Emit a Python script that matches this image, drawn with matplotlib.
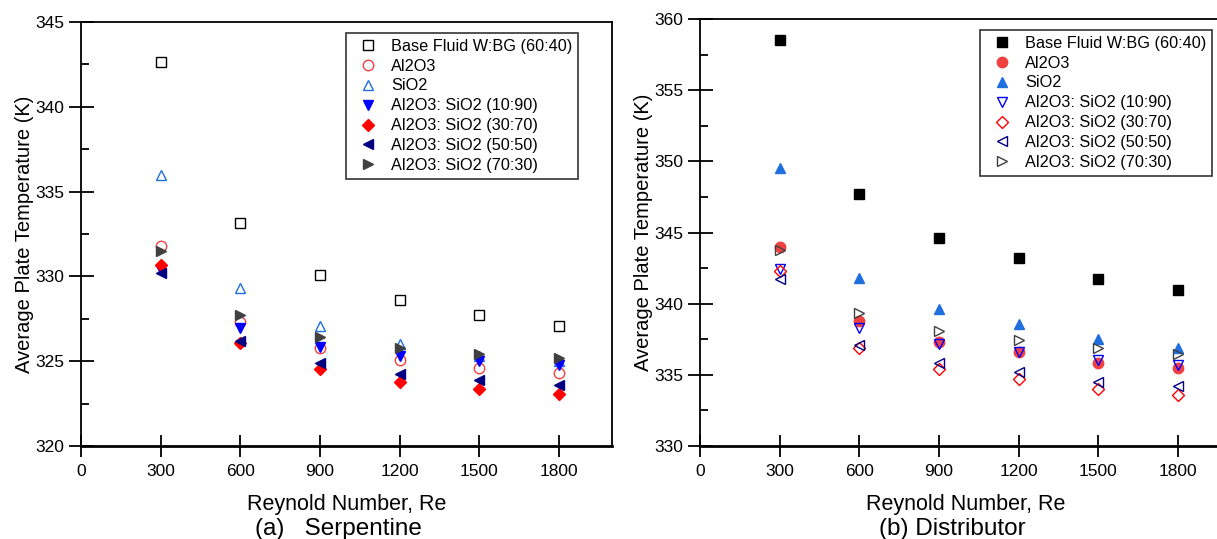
import matplotlib.pyplot as plt
import numpy as np

plt.rcParams['font.family'] = ['Liberation Sans', 'DejaVu Sans']

re = [300, 600, 900, 1200, 1500, 1800]

labels = ["Base Fluid W:BG (60:40)", "Al2O3", "SiO2",
          "Al2O3: SiO2 (10:90)", "Al2O3: SiO2 (30:70)",
          "Al2O3: SiO2 (50:50)", "Al2O3: SiO2 (70:30)"]

# (a) Serpentine
serp_base = [342.65, 333.15, 330.1, 328.6, 327.7, 327.1]
serp_al2o3 = [331.8, 327.3, 325.8, 325.05, 324.6, 324.3]
serp_sio2 = [336.0, 329.3, 327.1, 326.0, 325.3, 325.0]
serp_1090 = [330.4, 326.95, 325.85, 325.3, 325.0, 324.8]
serp_3070 = [330.65, 326.05, 324.55, 323.8, 323.35, 323.05]
serp_5050 = [330.2, 326.2, 324.9, 324.25, 323.9, 323.6]
serp_7030 = [331.5, 327.7, 326.45, 325.8, 325.45, 325.2]

# (b) Distributor
dist_base = [358.5, 347.7, 344.6, 343.2, 341.7, 340.95]
dist_al2o3 = [344.0, 338.8, 337.3, 336.6, 335.85, 335.45]
dist_sio2 = [349.5, 341.8, 339.6, 338.6, 337.5, 336.9]
dist_1090 = [342.45, 338.3, 337.2, 336.6, 336.05, 335.7]
dist_3070 = [342.3, 336.9, 335.4, 334.7, 334.0, 333.6]
dist_5050 = [341.75, 337.1, 335.8, 335.2, 334.5, 334.2]
dist_7030 = [343.8, 339.35, 338.05, 337.45, 336.9, 336.5]

markers = ['s', 'o', '^', 'v', 'D', '<', '>']
colors = ['#000000', '#f04040', '#1f6fdf', '#0000ff', '#ff0000', '#000080', '#404040']
sizes = [6.5, 7.5, 7.5, 7.5, 6.5, 7.5, 7.5]

fig = plt.figure(figsize=(12.17, 5.39), dpi=100)
ax1 = fig.add_axes([0.0666, 0.1725, 0.4363, 0.7866])
ax2 = fig.add_axes([0.5752, 0.1725, 0.4363, 0.7922])


def draw(ax, series, filled, ylim, legend_anchor):
    for i, ys in enumerate(series):
        fill = filled[i]
        ax.plot(re, ys, linestyle='none', marker=markers[i], markersize=sizes[i],
                markeredgecolor=colors[i],
                markerfacecolor=colors[i] if fill else 'none',
                markeredgewidth=1.0, label=labels[i])
    ax.set_xlim(0, 2000)
    ax.set_ylim(*ylim)
    ax.set_xticks([0] + re)
    ax.set_yticks(np.arange(ylim[0], ylim[1] + 0.1, 5))
    ax.set_yticks(np.arange(ylim[0], ylim[1], 2.5), minor=True)
    ax.tick_params(axis='x', direction='inout', length=16, width=1.3, pad=5,
                   labelsize=12.5)
    ax.tick_params(axis='y', which='major', direction='inout', length=18, width=1.3,
                   labelsize=12.5, pad=3)
    ax.tick_params(axis='y', which='minor', direction='in', length=6, width=1.3)
    for s in ax.spines.values():
        s.set_linewidth(1.3)
    ax.spines['bottom'].set_linewidth(2.0)
    ax.set_ylabel("Average Plate Temperature (K)", fontsize=14.5, labelpad=1)
    ax.set_xlabel("Reynold Number, Re", fontsize=15.5, labelpad=11)
    leg = ax.legend(loc='upper right', bbox_to_anchor=legend_anchor,
                    bbox_transform=fig.transFigure, fontsize=11.7,
                    fancybox=False, edgecolor='#333333', framealpha=1,
                    handletextpad=0.45, labelspacing=0.3, borderpad=0.35,
                    handlelength=2.0, borderaxespad=0)
    leg.get_frame().set_linewidth(1.2)


draw(ax1, [serp_base, serp_al2o3, serp_sio2, serp_1090, serp_3070, serp_5050, serp_7030],
     [False, False, False, True, True, True, True], (320, 345),
     (578 / 1217, 1 - 33 / 539))
draw(ax2, [dist_base, dist_al2o3, dist_sio2, dist_1090, dist_3070, dist_5050, dist_7030],
     [True, True, True, False, False, False, False], (330, 360),
     (1212 / 1217, 1 - 30 / 539))
ax2.spines['right'].set_visible(False)

fig.text(338 / 1217, 1 - 529 / 539, "(a)   Serpentine", ha='center', va='center',
         fontsize=17.5)
fig.text(952 / 1217, 1 - 529 / 539, "(b) Distributor", ha='center', va='center',
         fontsize=17.5)

fig.savefig("out.png", dpi=100)
